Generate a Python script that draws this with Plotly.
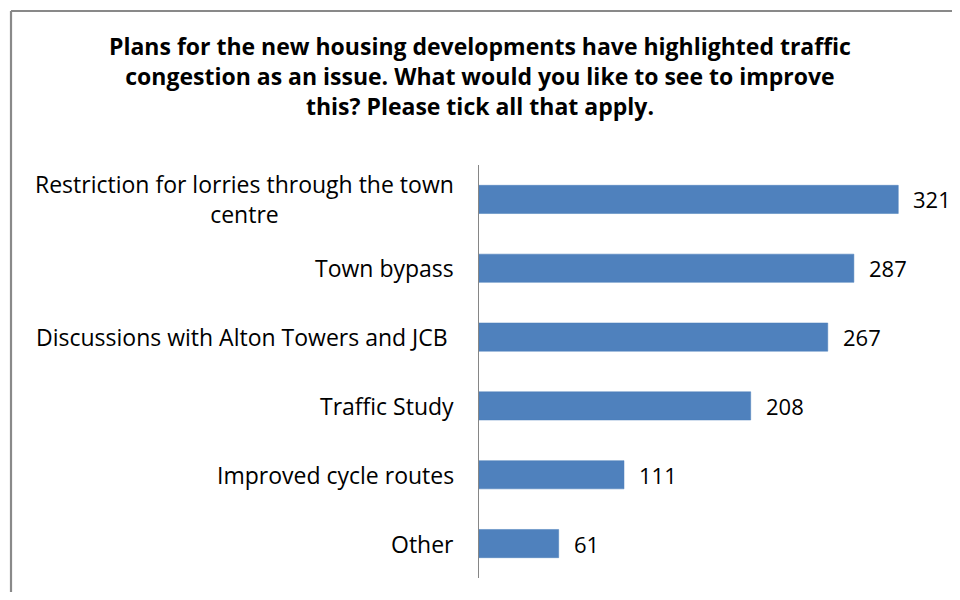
import plotly.graph_objects as go

categories = [
    "Restriction for lorries through the town<br>centre",
    "Town bypass",
    "Discussions with Alton Towers and JCB ",
    "Traffic Study",
    "Improved cycle routes",
    "Other",
]
values = [321, 287, 267, 208, 111, 61]
title_text = ("Plans for the new housing developments have highlighted traffic<br>"
              "congestion as an issue. What would you like to see to improve<br>"
              "this? Please tick all that apply.")

FONT = "Open Sans"
OFF = 8  # page body margin
W, H = 960 - 2 * OFF, 600 - 2 * OFF
L, T = 479 - OFF, 165 - OFF
B = H - (578 - OFF)
XMAX = 356
pw = W - L - 8
R = W - L - pw
ph = H - T - B

fig = go.Figure(go.Bar(
    x=values, y=categories, orientation="h",
    marker=dict(color="#4F81BD", line=dict(color="#4A7EBB", width=0.5)),
    width=0.41, hoverinfo="skip",
))

def disp(c):
    return c.rstrip() + "&nbsp;" if c.endswith(" ") else c

annotations = []
for c, v in zip(categories, values):
    annotations.append(dict(x=0, y=c, xref="paper", yref="y", text=disp(c),
                            xanchor="right", yanchor="middle", align="center",
                            xshift=-23, showarrow=False,
                            font=dict(family=FONT, size=23, color="#000000")))
    annotations.append(dict(x=v, y=c, xref="x", yref="y", text=str(v),
                            xanchor="left", yanchor="middle", xshift=13,
                            showarrow=False,
                            font=dict(family=FONT, size=22, color="#000000")))
annotations.append(dict(x=(480 - OFF - L) / pw, y=(H - B - 20) / ph, xref="paper", yref="paper",
                        text="<b>" + title_text + "</b>", xanchor="center", yanchor="top",
                        align="center", showarrow=False,
                        font=dict(family=FONT, size=23, color="#000000")))

bx = (11 - OFF - L) / pw
by = (H - B - (11 - OFF)) / ph
border = dict(color="#898989", width=2.2)
fig.update_layout(
    width=W, height=H,
    margin=dict(l=L, r=R, t=T, b=B),
    paper_bgcolor="white", plot_bgcolor="white",
    showlegend=False,
    annotations=annotations,
    xaxis=dict(range=[0, XMAX], visible=False, fixedrange=True),
    yaxis=dict(autorange="reversed", showticklabels=False, ticks="",
               showline=True, linecolor="#868686", linewidth=1.3,
               showgrid=False, zeroline=False, fixedrange=True),
    shapes=[
        dict(type="line", xref="paper", yref="paper", x0=bx, x1=1.5, y0=by, y1=by, line=border),
        dict(type="line", xref="paper", yref="paper", x0=bx, x1=bx, y0=-0.3, y1=by, line=border),
    ],
)

fig.write_html("out.html")
